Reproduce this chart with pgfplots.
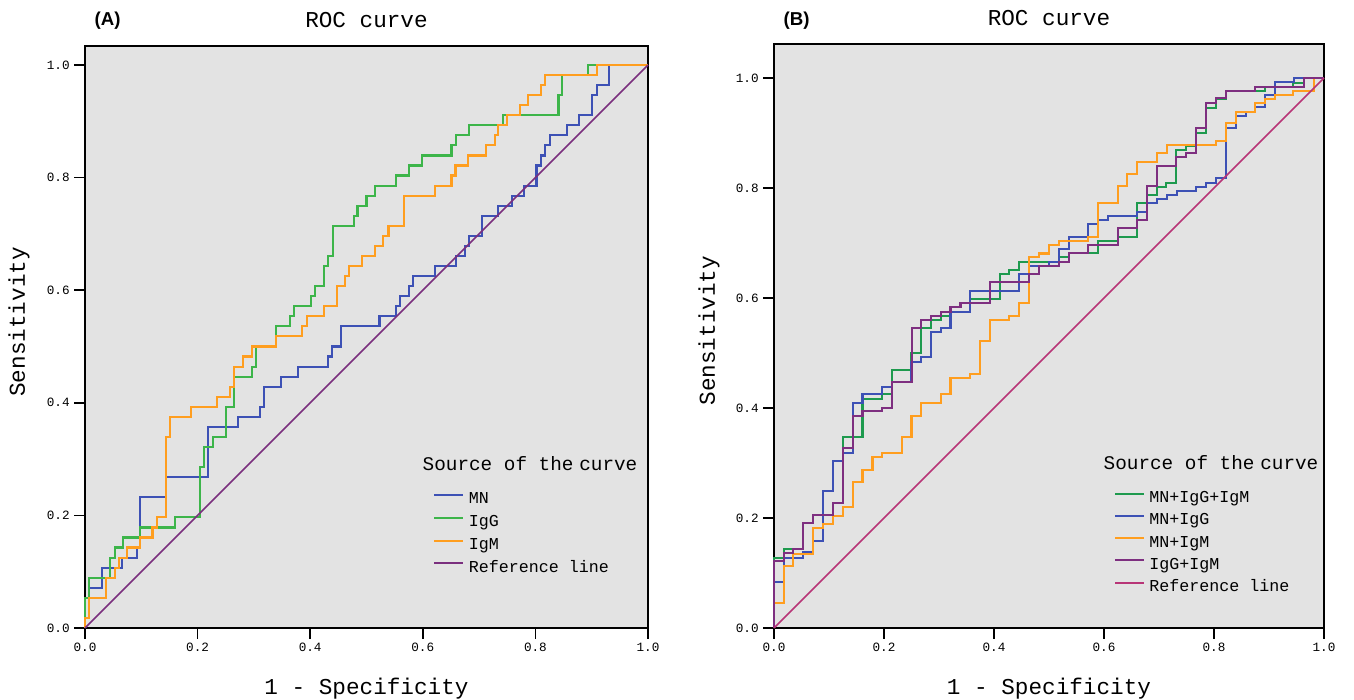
\documentclass[border=0pt]{standalone}
\usepackage{fontspec}
\setmainfont{Liberation Mono}
\newfontfamily\panelfont{Liberation Sans}
\usepackage{pgfplots}
\pgfplotsset{compat=1.18}
\usepackage{pgfplotstable}

\definecolor{bggray}{HTML}{E3E3E3}
\definecolor{mnblue}{HTML}{3D51B5}
\definecolor{igggreen}{HTML}{3DB54A}
\definecolor{igmorange}{HTML}{FF9E1F}
\definecolor{refpurple}{HTML}{7A2F7E}
\definecolor{triogreen}{HTML}{1E9A4E}
\definecolor{duopurple}{HTML}{7E2F80}
\definecolor{refpink}{HTML}{B83577}

% panel A: step points (x where the step happens, sensitivity after it)
\pgfplotstableread{
x y
0 0
0 0.0536
0.0077 0.0714
0.0296 0.1071
0.065 0.125
0.0918 0.1429
0.0977 0.2321
0.144 0.2679
0.219 0.3571
0.272 0.375
0.311 0.3929
0.318 0.4286
0.348 0.4464
0.379 0.4643
0.432 0.4821
0.439 0.5
0.454 0.5357
0.523 0.5536
0.552 0.5714
0.560 0.5893
0.575 0.6071
0.583 0.625
0.622 0.6429
0.659 0.6607
0.675 0.6786
0.682 0.6964
0.705 0.7321
0.734 0.75
0.758 0.7679
0.780 0.7857
0.802 0.8214
0.810 0.8393
0.817 0.8571
0.826 0.875
0.856 0.8929
0.878 0.9107
0.900 0.9464
0.909 0.9643
0.931 1
1 1
}\mnA

\pgfplotstableread{
x y
0 0
0 0.0536
0.0077 0.0893
0.0444 0.125
0.0533 0.1429
0.068 0.1607
0.0977 0.1786
0.160 0.1964
0.204 0.2857
0.212 0.3214
0.227 0.3393
0.250 0.3929
0.265 0.4464
0.296 0.4643
0.303 0.5
0.340 0.5357
0.364 0.5536
0.371 0.5714
0.401 0.5893
0.4085 0.6071
0.4245 0.6429
0.432 0.6607
0.440 0.7143
0.478 0.7321
0.484 0.75
0.500 0.7679
0.515 0.7857
0.552 0.8036
0.575 0.8214
0.598 0.8393
0.651 0.8571
0.659 0.875
0.682 0.8929
0.742 0.9107
0.841 0.9464
0.848 0.9821
0.894 1
1 1
}\iggA

\pgfplotstableread{
x y
0 0
0 0.0179
0.0077 0.0536
0.0373 0.0893
0.0533 0.1071
0.061 0.125
0.0752 0.1429
0.0977 0.1607
0.120 0.1786
0.128 0.1964
0.144 0.3393
0.151 0.375
0.189 0.3929
0.235 0.4107
0.2575 0.4286
0.265 0.4643
0.280 0.4821
0.296 0.5
0.340 0.5179
0.386 0.5357
0.394 0.5536
0.425 0.5714
0.447 0.6071
0.462 0.625
0.4695 0.6429
0.4915 0.6607
0.515 0.6786
0.530 0.6964
0.539 0.7143
0.567 0.7679
0.622 0.7857
0.651 0.8036
0.658 0.8214
0.681 0.8393
0.712 0.8571
0.728 0.875
0.734 0.8929
0.749 0.9107
0.773 0.9286
0.787 0.9464
0.810 0.9643
0.817 0.9821
0.909 1
1 1
}\igmA

% panel B
\pgfplotstableread{
x y
0 0
0 0.128
0.018 0.1436
0.0533 0.1903
0.0715 0.2055
0.1067 0.2273
0.125 0.3479
0.161 0.4164
0.196 0.4248
0.214 0.4691
0.25 0.5006
0.2673 0.5448
0.2855 0.56
0.303 0.568
0.321 0.5842
0.339 0.5903
0.3564 0.598
0.4109 0.6436
0.4279 0.6509
0.446 0.666
0.5176 0.6739
0.5358 0.6812
0.5897 0.7042
0.626 0.7115
0.6594 0.772
0.6776 0.787
0.6958 0.802
0.7127 0.8097
0.7309 0.869
0.749 0.876
0.7673 0.9006
0.7855 0.9448
0.8036 0.9612
0.8218 0.977
0.8927 0.9842
0.9442 0.9915
0.9636 1
1 1
}\trioB

\pgfplotstableread{
x y
0 0
0 0.083
0.018 0.128
0.0533 0.1376
0.0715 0.1588
0.0897 0.2497
0.1067 0.3036
0.125 0.3182
0.143 0.4097
0.161 0.4248
0.196 0.4388
0.214 0.4467
0.25 0.4842
0.2673 0.4921
0.2855 0.5376
0.303 0.546
0.321 0.5752
0.3564 0.6133
0.446 0.6436
0.4642 0.6588
0.4994 0.666
0.5176 0.6891
0.5358 0.7115
0.5715 0.7345
0.5897 0.7418
0.6079 0.7497
0.6594 0.757
0.6776 0.7721
0.6958 0.7794
0.714 0.7873
0.7321 0.7952
0.7673 0.8024
0.7855 0.8097
0.8036 0.8176
0.8212 0.9085
0.8394 0.9315
0.8576 0.9388
0.8745 0.9467
0.8927 0.9691
0.9109 0.9921
0.946 1
1 1
}\mnigg

\pgfplotstableread{
x y
0 0
0 0.0449
0.018 0.1133
0.0352 0.1345
0.0715 0.1812
0.0897 0.1891
0.1067 0.2042
0.125 0.2194
0.143 0.2648
0.161 0.2873
0.179 0.3103
0.196 0.3176
0.232 0.3479
0.25 0.3855
0.268 0.4097
0.303 0.4248
0.321 0.4552
0.3564 0.4618
0.3745 0.5224
0.3927 0.56
0.4279 0.568
0.446 0.591
0.4642 0.674
0.4812 0.681
0.4994 0.696
0.5176 0.704
0.5715 0.7115
0.5897 0.772
0.626 0.8036
0.6412 0.8248
0.6594 0.8479
0.6958 0.863
0.714 0.8782
0.8036 0.8855
0.8212 0.9176
0.8394 0.9388
0.8745 0.9539
0.8927 0.9618
0.9109 0.9691
0.9442 0.977
0.9818 1
1 1
}\mnigm

\pgfplotstableread{
x y
0 0
0 0.1218
0.018 0.137
0.0352 0.1436
0.0533 0.1903
0.0715 0.2055
0.1067 0.2273
0.125 0.3267
0.143 0.3855
0.161 0.3945
0.196 0.4006
0.214 0.4467
0.2503 0.5448
0.2673 0.56
0.2855 0.568
0.303 0.5752
0.321 0.5842
0.339 0.5903
0.3927 0.6285
0.4642 0.6436
0.4812 0.6588
0.5176 0.666
0.5358 0.6812
0.5715 0.6963
0.626 0.7267
0.6594 0.7418
0.6776 0.8036
0.6958 0.8406
0.7309 0.857
0.749 0.8642
0.7673 0.9085
0.7855 0.955
0.8036 0.963
0.8218 0.977
0.8745 0.9842
0.9636 1
1 1
}\iggigm

\pgfplotsset{
  rocaxis/.style={
    scale only axis,
    xmin=0, xmax=1, ymin=0,
    axis background/.style={fill=bggray},
    axis line style={black, line width=1.1pt},
    tick pos=left, tick align=outside,
    major tick length=8pt,
    tick style={black, line width=1.1pt},
    xtick={0,0.2,0.4,0.6,0.8,1}, ytick={0,0.2,0.4,0.6,0.8,1},
    /pgf/number format/fixed,
    /pgf/number format/fixed zerofill,
    /pgf/number format/precision=1,
    /pgf/number format/assume math mode=true,
    tick label style={font=\fontsize{9.5}{10}\selectfont},
    label style={font=\fontsize{17}{20}\selectfont},
    % the default title style shifts up by 6pt; cancel it
    title style={font=\fontsize{17}{20}\selectfont, anchor=base, yshift=-6pt},
    title={ROC curve},
    xlabel={1 - Specificity},
    ylabel={Sensitivity},
    legend cell align=left,
    legend image code/.code={
      \draw[#1, line width=1.6pt] (0pt,6.2pt) -- (21.75pt,6.2pt);
      \path (25pt,0pt);
    },
    legend style={draw=none, fill=none, inner sep=0pt, outer sep=0pt,
      anchor=north west, row sep=0pt,
      font=\fontsize{12.5}{14}\selectfont,
      nodes={inner sep=0pt, text height=9pt}},
    clip=false,
  },
  curve/.style={const plot, line width=1.6pt},
}

\begin{document}
\begin{tikzpicture}
\path[use as bounding box] (0,0) rectangle (1015.5pt,525pt);

% ---- (A) ----
\begin{axis}[rocaxis,
  at={(63.75pt,54pt)}, anchor=south west,
  width=422.25pt, height=436.5pt,
  ymax=1.0337,
  title style={at={(axis description cs:0.5,1.0326)}},
  xlabel style={at={(axis description cs:0.5,-0.115)}, anchor=base},
  ylabel style={at={(axis description cs:-0.1066,0.526)}, anchor=base},
  legend style={at={(axis cs:0.6187,0.2416)},
    nodes={text depth=8.06pt}},
]
\addplot[curve, mnblue] table {\mnA};
\addlegendentry{MN}
\addplot[curve, igggreen] table {\iggA};
\addlegendentry{IgG}
\addplot[curve, igmorange] table {\igmA};
\addlegendentry{IgM}
\addplot[refpurple, line width=1.2pt] coordinates {(0,0) (1,1)};
\addlegendentry{Reference line}
\node[anchor=base west, font=\fontsize{14.5}{16}\selectfont]
  at (axis cs:0.5915,0.2806) {Source of the\kern0.3em curve};
\end{axis}

% ---- (B) ----
\begin{axis}[rocaxis,
  at={(580.5pt,54pt)}, anchor=south west,
  width=412.5pt, height=438pt,
  ymax=1.0618,
  title style={at={(axis description cs:0.5,1.0325)}},
  xlabel style={at={(axis description cs:0.5,-0.1147)}, anchor=base},
  ylabel style={at={(axis description cs:-0.1073,0.509)}, anchor=base},
  legend style={at={(axis cs:0.6182,0.2496)},
    nodes={text depth=7.7pt}},
]
\addplot[curve, triogreen] table {\trioB};
\addlegendentry{MN+IgG+IgM}
\addplot[curve, mnblue] table {\mnigg};
\addlegendentry{MN+IgG}
\addplot[curve, igmorange] table {\mnigm};
\addlegendentry{MN+IgM}
\addplot[curve, duopurple] table {\iggigm};
\addlegendentry{IgG+IgM}
\addplot[refpink, line width=1.2pt] coordinates {(0,0) (1,1)};
\addlegendentry{Reference line}
\node[anchor=base west, font=\fontsize{14.5}{16}\selectfont]
  at (axis cs:0.5909,0.289) {Source of the\kern0.3em curve};
\end{axis}

\node[anchor=base west, font=\panelfont\bfseries\fontsize{14}{16}\selectfont]
  at (67.5pt,506pt) {(A)};
\node[anchor=base west, font=\panelfont\bfseries\fontsize{14}{16}\selectfont]
  at (584.25pt,506pt) {(B)};
\end{tikzpicture}
\end{document}
